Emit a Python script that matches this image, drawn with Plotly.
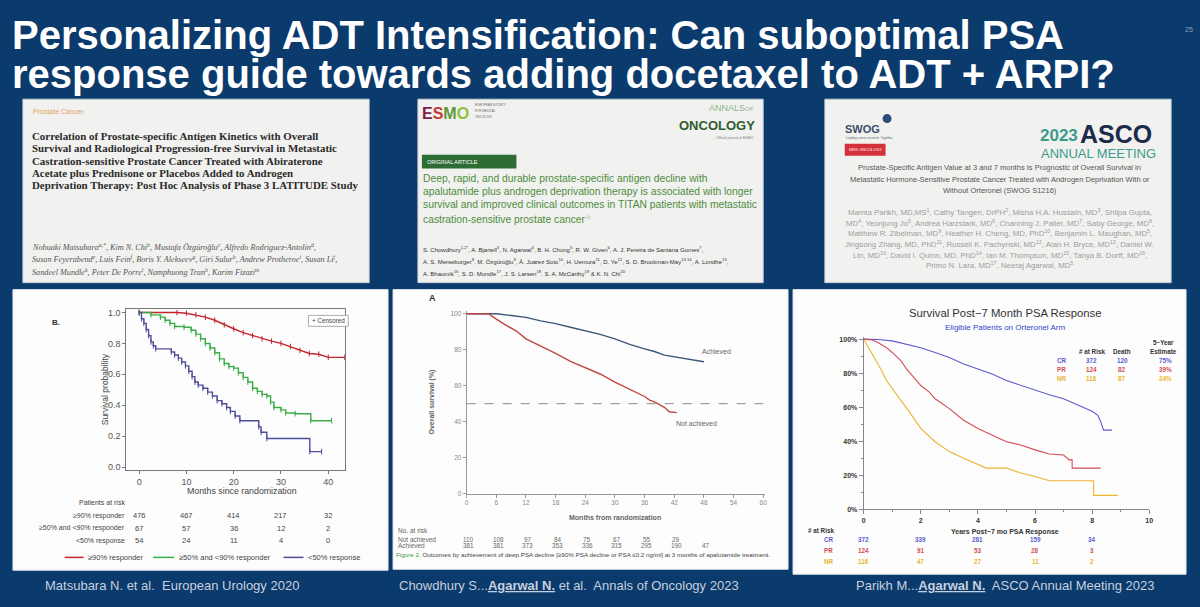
import plotly.graph_objects as go

W, H = 1200, 607
BG = '#0b3a6c'
SANS = 'Liberation Sans, Arial, sans-serif'
SERIF = 'Liberation Serif, Times New Roman, serif'

TITLE_LINES = ["Personalizing ADT Intensification: Can suboptimal PSA",
               "response guide towards adding docetaxel to ADT + ARPI?"]
SLIDE_NO = "25"

# ---------------- Panel 1 (LATITUDE) ----------------
P1_RED_T = [0, 8, 10, 12, 14, 16, 18, 20, 22, 24, 26, 28, 30, 32, 34, 36, 38, 40, 43.5]
P1_RED_S = [1.0, 1.0, 0.995, 0.985, 0.97, 0.95, 0.92, 0.895, 0.87, 0.85, 0.83, 0.815,
            0.80, 0.78, 0.755, 0.735, 0.73, 0.71, 0.71]
P1_GREEN_T = [0, 2.5, 4.5, 5.5, 6.5, 7.5, 9.5, 11.0, 12.0, 13.0, 14.0, 15.0, 16.0, 17.0,
              18.0, 19.0, 20.0, 21.0, 22.0, 23.0, 24.0, 25.0, 26.0, 27.0, 27.8, 28.5,
              30.0, 31.0, 33.0, 36.3, 40.7]
P1_GREEN_S = [1.0, 0.985, 0.97, 0.95, 0.93, 0.91, 0.905, 0.885, 0.86, 0.83, 0.80, 0.77,
              0.74, 0.70, 0.67, 0.65, 0.64, 0.61, 0.58, 0.55, 0.51, 0.49, 0.47, 0.46,
              0.42, 0.385, 0.37, 0.35, 0.345, 0.30, 0.30]
P1_BLUE_T = [0, 0.5, 1.0, 1.5, 2.0, 2.5, 3.0, 3.5, 6.8, 7.5, 8.3, 9.0, 9.8, 10.5, 11.2,
             11.8, 12.5, 13.5, 14.5, 15.5, 16.5, 17.5, 18.5, 19.3, 20.3, 21.3, 25.3,
             25.8, 27.0, 36.1, 38.6]
P1_BLUE_S = [1.0, 0.96, 0.93, 0.89, 0.85, 0.81, 0.785, 0.765, 0.745, 0.725, 0.705, 0.68,
             0.655, 0.62, 0.585, 0.55, 0.53, 0.51, 0.485, 0.46, 0.43, 0.41, 0.385, 0.36,
             0.33, 0.30, 0.26, 0.225, 0.185, 0.10, 0.10]
P1_XTICKS = [0, 10, 20, 30, 40]
P1_YTICKS = [0.0, 0.2, 0.4, 0.6, 0.8, 1.0]
P1_GROUPS = ["≥90% responder", "≥50% and <90% responder", "<50% response"]
P1_RISK_RED = [476, 467, 414, 217, 32]
P1_RISK_GREEN = [67, 57, 36, 12, 2]
P1_RISK_BLUE = [54, 24, 11, 4, 0]
P1_COLORS = ['#c3272d', '#3aae46', '#4d4d9c']

# ---------------- Panel 2 (TITAN) ----------------
P2_ACH_T = [0, 6, 9, 12, 15, 18, 21, 24, 27, 30, 33, 36, 38, 40, 42, 44, 46, 48]
P2_ACH_S = [100, 100, 99, 98, 96, 94.5, 92.5, 90.5, 88.5, 86, 83, 80.5, 79, 77, 76, 75, 74, 73.3]
P2_NOT_T = [0, 4.4, 6, 8, 10, 12, 15, 18, 21, 24, 27, 30, 33, 36, 37, 38, 39, 40, 41, 42.5]
P2_NOT_S = [100, 100, 97, 93.5, 90.5, 86, 82, 78, 73.5, 70, 66.5, 62, 58, 54, 52, 51,
            49.5, 48, 45.5, 45]
P2_XTICKS = [0, 6, 12, 18, 24, 30, 36, 42, 48, 54, 60]
P2_YTICKS = [0, 20, 40, 60, 80, 100]
P2_MEDIAN = 50
P2_RISK_T = [0, 6, 12, 18, 24, 30, 36, 42, 48]
P2_RISK_NOT = [110, 108, 97, 84, 75, 67, 55, 29]
P2_RISK_ACH = [381, 381, 373, 353, 336, 315, 295, 190, 47]
P2_COLORS = ['#3b5878', '#c04545']

# ---------------- Panel 3 (SWOG S1216) ----------------
P3_CR_T = [0, 0.5, 1, 1.5, 2, 2.5, 3, 3.5, 4, 4.5, 5, 5.5, 6, 6.5, 7, 7.5, 8, 8.2, 8.3, 8.4, 8.7]
P3_CR_S = [100, 99.8, 99, 97, 95, 92.2, 89.3, 85.4, 82.5, 79.6, 75.7, 72.8, 69.9, 67.4,
           65, 61.2, 57.7, 55.3, 51.5, 46.6, 46.6]
P3_PR_T = [0, 0.3, 0.5, 0.8, 1, 1.3, 1.5, 1.8, 2, 2.3, 2.5, 3, 3.5, 4, 4.5, 5, 5.5, 6,
           6.5, 7, 7.2, 7.3, 7.3, 8.3]
P3_PR_S = [100, 99.5, 98, 95, 92.2, 87.4, 82.5, 76.7, 72.8, 68.9, 65, 59.2, 52.4, 47.6,
           43.7, 39.8, 37.9, 35, 32.6, 32, 29.1, 29.1, 24.3, 24.3]
P3_NR_T = [0, 0.2, 0.4, 0.6, 0.8, 1, 1.3, 1.6, 2, 2.5, 3, 3.5, 4, 4.3, 5, 5.5, 6, 6.5,
           8.05, 8.05, 8.9]
P3_NR_S = [100, 94.2, 88.3, 82.5, 75.7, 70.9, 64.1, 57.3, 47.6, 39.8, 34, 30.1, 26.2,
           24.3, 24.3, 21.4, 19.4, 16.9, 16.9, 8.3, 8.3]
P3_GROUPS = ["CR", "PR", "NR"]
P3_COLORS = ['#5c5cd0', '#d24c55', '#ebb431']
P3_N = [372, 124, 116]
P3_DEATHS = [120, 82, 87]
P3_EST = ["75%", "39%", "24%"]
P3_XTICKS = [0, 2, 4, 6, 8, 10]
P3_YTICKS = [0, 20, 40, 60, 80, 100]
P3_RISK_T = [0, 2, 4, 6, 8]
P3_RISK_CR = [372, 339, 281, 159, 34]
P3_RISK_PR = [124, 91, 53, 28, 3]
P3_RISK_NR = [116, 47, 27, 11, 2]

CITATIONS = ["Matsubara N. et al.  European Urology 2020",
             "Chowdhury S...<b><u>Agarwal N.</u></b> et al.  Annals of Oncology 2023",
             "Parikh M...<b><u>Agarwal N.</u></b>  ASCO Annual Meeting 2023"]


def X(p):
    return p / W


def Y(p):
    return 1 - p / H


ann = []
shapes = []


def text(s, x, y, size, color='#333', xanchor='left', yanchor='middle', family=SANS,
         xref='paper', yref='paper', angle=0):
    ann.append(dict(text=s, x=X(x) if xref == 'paper' else x,
                    y=Y(y) if yref == 'paper' else y, xref=xref, yref=yref,
                    showarrow=False, font=dict(size=size, color=color, family=family),
                    xanchor=xanchor, yanchor=yanchor, textangle=angle, borderpad=0))


def rect(x0, y0, x1, y1, fill, line=None, lw=0, kind='rect'):
    shapes.append(dict(type=kind, xref='paper', yref='paper', x0=X(x0), x1=X(x1),
                       y0=Y(y1), y1=Y(y0), fillcolor=fill,
                       line=dict(color=line or fill, width=lw), layer='below'))


def seg(x0, x1, y, color, width=1.5):
    shapes.append(dict(type='line', xref='paper', yref='paper', x0=X(x0), x1=X(x1),
                       y0=Y(y), y1=Y(y), line=dict(color=color, width=width)))


# ---------- slide title ----------
text("<b>" + TITLE_LINES[0] + "</b>", 9, 33, 40, 'white')
text("<b>" + TITLE_LINES[1] + "</b>", 9, 73, 40, 'white')
text(SLIDE_NO, 1193, 28, 7, '#8fa3bb', xanchor='center')

# ---------- top article boxes ----------
rect(21, 98, 369, 283, '#f1f1ef', '#c9ced6', 1)
rect(418, 98, 765, 283, '#f1f1ef', '#c9ced6', 1)
rect(827, 98, 1175, 283, '#f1f1ef', '#c9ced6', 1)

# box 1
text("Prostate Cancer", 30, 110, 7, '#e3a25e')
B1 = ["Correlation of Prostate-specific Antigen Kinetics with Overall",
      "Survival and Radiological Progression-free Survival in Metastatic",
      "Castration-sensitive Prostate Cancer Treated with Abiraterone",
      "Acetate plus Prednisone or Placebos Added to Androgen",
      "Deprivation Therapy: Post Hoc Analysis of Phase 3 LATITUDE Study"]
for i, ln in enumerate(B1):
    text("<b>" + ln + "</b>", 29, 135 + i * 12.5, 10.9, '#2b2b2b', family=SERIF)
B1A = ["Nobuaki Matsubara<sup>a,*</sup>, Kim N. Chi<sup>b</sup>, Mustafa Özgüroğlu<sup>c</sup>, Alfredo Rodriguez-Antolin<sup>d</sup>,",
       "Susan Feyerabend<sup>e</sup>, Luis Fein<sup>f</sup>, Boris Y. Alekseev<sup>g</sup>, Giri Sulur<sup>h</sup>, Andrew Protheroe<sup>i</sup>, Susan Li<sup>j</sup>,",
       "Sandeel Mundle<sup>k</sup>, Peter De Porre<sup>l</sup>, Namphuong Tran<sup>h</sup>, Karim Fizazi<sup>m</sup>"]
for i, ln in enumerate(B1A):
    text("<i>" + ln + "</i>", 29, 247 + i * 12.5, 8.2, '#555', family=SERIF)

# box 2
text('<b><span style="color:#7d1f4c">E</span><span style="color:#c7363c">S</span>'
     '<span style="color:#5c9a3a">M</span><span style="color:#93c03f">O</span></b>',
     421, 112, 16, '#333')
for i, ln in enumerate(["EUROPEAN SOCIETY", "FOR MEDICAL", "ONCOLOGY"]):
    text(ln, 474, 104 + i * 6, 3, '#666')
text("ANNALS<span style='font-size:6px'>OF</span>", 757, 107, 9, '#8db38a', xanchor='right')
text("<b>ONCOLOGY</b>", 758, 125, 13, '#2f5d2f', xanchor='right')
text("Official journal of ESMO", 757, 137, 3.5, '#777', xanchor='right')
rect(422, 154, 517, 168, '#2e6b35')
text("ORIGINAL ARTICLE", 426, 161, 5.5, 'white')
B2 = ["Deep, rapid, and durable prostate-specific antigen decline with",
      "apalutamide plus androgen deprivation therapy is associated with longer",
      "survival and improved clinical outcomes in TITAN patients with metastatic",
      "castration-sensitive prostate cancer<sup>☆</sup>"]
for i, ln in enumerate(B2):
    text(ln, 422, 178 + i * 13.3, 10.3, '#4e8c3c')
B2A = ["S. Chowdhury<sup>1,2*</sup>, A. Bjartell<sup>3</sup>, N. Agarwal<sup>4</sup>, B. H. Chung<sup>5</sup>, R. W. Given<sup>6</sup>, A. J. Pereira de Santana Gomes<sup>7</sup>,",
       "A. S. Merseburger<sup>8</sup>, M. Özgüroğlu<sup>9</sup>, Á. Juárez Soto<sup>10</sup>, H. Uemura<sup>11</sup>, D. Ye<sup>12</sup>, S. D. Brookman-May<sup>13,14</sup>, A. Londhe<sup>15</sup>,",
       "A. Bhaumik<sup>16</sup>, S. D. Mundle<sup>17</sup>, J. S. Larsen<sup>18</sup>, S. A. McCarthy<sup>19</sup> & K. N. Chi<sup>20</sup>"]
for i, ln in enumerate(B2A):
    text(ln, 422, 249 + i * 12, 6, '#333')

# box 3
text("<b>SWOG</b>", 846, 128, 11, '#3b4d6b')
rect(885, 113, 894, 122, '#2c4a7a', kind='circle')
text("Leading cancer research. Together.", 847, 137, 3, '#666')
rect(847, 143, 888, 155, '#d5303a')
text("NRG ONCOLOGY", 850, 149, 4, 'white')
text("<b>2023</b>", 1042, 135, 17, '#3d9b8c')
text("<b>ASCO</b>", 1082, 133, 25, '#1c2b4a')
text("ANNUAL MEETING", 1043, 153, 13, '#3d9b8c')
B3 = ["Prostate-Specific Antigen Value at 3 and 7 months Is Prognostic of Overall Survival in",
      "Metastatic Hormone-Sensitive Prostate Cancer Treated with Androgen Deprivation With or",
      "Without Orteronel (SWOG S1216)"]
for i, ln in enumerate(B3):
    text(ln, 1003, 167 + i * 11.5, 7.5, '#555', xanchor='center')
B3A = ["Mamta Parikh, MD,MS<sup>1</sup>, Cathy Tangen, DrPH<sup>2</sup>, Misha H.A. Hussain, MD<sup>3</sup>, Shilpa Gupta,",
       "MD<sup>4</sup>, Yeonjung Jo<sup>5</sup>, Andrea Harzstark, MD<sup>6</sup>, Channing J. Paller, MD<sup>7</sup>, Saby George, MD<sup>8</sup>,",
       "Matthew R. Zibelman, MD<sup>9</sup>, Heather H. Cheng, MD, PhD<sup>10</sup>, Benjamin L. Maughan, MD<sup>5</sup>,",
       "Jingsong Zhang, MD, PhD<sup>11</sup>, Russell K. Pachynski, MD<sup>12</sup>, Alan H. Bryce, MD<sup>13</sup>, Daniel W.",
       "Lin, MD<sup>10</sup>, David I. Quinn, MD, PhD<sup>14</sup>, Ian M. Thompson, MD<sup>15</sup>, Tanya B. Dorff, MD<sup>16</sup>,",
       "Primo N. Lara, MD<sup>17</sup>, Neeraj Agarwal, MD<sup>5</sup>"]
for i, ln in enumerate(B3A):
    text(ln, 1003, 212 + i * 10.7, 7.8, '#9d9d9d', xanchor='center')

# ---------- bottom chart panels ----------
rect(11, 290, 388, 573, '#fdfdfd', '#dde3ea', 1)
rect(393, 290, 790, 572, '#fdfdfd', '#dde3ea', 1)
rect(795, 290, 1190, 577, '#fdfdfd', '#dde3ea', 1)

fig = go.Figure()

# panel 1 traces
for t, s, c in [(P1_RED_T, P1_RED_S, P1_COLORS[0]), (P1_GREEN_T, P1_GREEN_S, P1_COLORS[1]),
                (P1_BLUE_T, P1_BLUE_S, P1_COLORS[2])]:
    shape = 'linear' if c == P1_COLORS[0] else 'hv'
    fig.add_trace(go.Scatter(x=t, y=s, mode='lines+markers', xaxis='x', yaxis='y',
                             line=dict(color=c, width=1.4, shape=shape),
                             marker=dict(symbol='line-ns-open', size=4,
                                         line=dict(color=c, width=1))))

# panel 2 traces
fig.add_trace(go.Scatter(x=P2_ACH_T, y=P2_ACH_S, mode='lines', xaxis='x2', yaxis='y2',
                         line=dict(color=P2_COLORS[0], width=1.4)))
fig.add_trace(go.Scatter(x=P2_NOT_T, y=P2_NOT_S, mode='lines', xaxis='x2', yaxis='y2',
                         line=dict(color=P2_COLORS[1], width=1.4)))

# panel 3 traces
for t, s, c in [(P3_CR_T, P3_CR_S, P3_COLORS[0]), (P3_PR_T, P3_PR_S, P3_COLORS[1]),
                (P3_NR_T, P3_NR_S, P3_COLORS[2])]:
    fig.add_trace(go.Scatter(x=t, y=s, mode='lines', xaxis='x3', yaxis='y3',
                             line=dict(color=c, width=1.1)))

# panel 1 annotations
text("<b>B.</b>", 49, 323, 8, '#333')
shapes.append(dict(type='rect', xref='paper', yref='paper', x0=X(308), x1=X(348),
                   y0=Y(327), y1=Y(316), fillcolor='white', line=dict(color='#999', width=0.8)))
text("+ Censored", 328, 321.5, 6.3, '#444', xanchor='center')
text("Survival probability", 103, 390, 8.5, '#444', xanchor='center', angle=-90)
text("Months since randomization", 241, 493, 8.8, '#444', xanchor='center')
text("Patients at risk", 125, 505, 7, '#444', xanchor='right')
for i, (g, vals) in enumerate(zip(P1_GROUPS, [P1_RISK_RED, P1_RISK_GREEN, P1_RISK_BLUE])):
    yy = 518 + i * 12.7
    text(g, 125, yy, 7, '#444', xanchor='right')
    for tt, v in zip(P1_XTICKS, vals):
        ann.append(dict(text=str(v), x=tt, y=Y(yy), xref='x', yref='paper', showarrow=False,
                        font=dict(size=7.5, color='#444', family=SANS), xanchor='center',
                        yanchor='middle'))
leg_x = [(63, 82, 85), (152, 173, 177), (283, 303, 307)]
for (a, b, tx), g, c in zip(leg_x, P1_GROUPS, P1_COLORS):
    seg(a, b, 560, c, 1.5)
    text(g, tx, 560, 7.5, '#444')

# panel 2 annotations
text("<b>A</b>", 428, 298, 9, '#333')
text("<b>Overall survival (%)</b>", 432, 403, 7, '#666', xanchor='center', angle=-90)
text("<b>Months from randomization</b>", 616, 520, 7, '#666', xanchor='center')
ann.append(dict(text="Achieved", x=50.6, y=79, xref='x2', yref='y2', showarrow=False,
                font=dict(size=7, color='#666', family=SANS), xanchor='center'))
ann.append(dict(text="Not achieved", x=46.5, y=39, xref='x2', yref='y2', showarrow=False,
                font=dict(size=7, color='#666', family=SANS), xanchor='center'))
shapes.append(dict(type='line', xref='x2', yref='y2', x0=P2_XTICKS[0], x1=P2_XTICKS[-1],
                   y0=P2_MEDIAN, y1=P2_MEDIAN, line=dict(color='#8a8a8a', width=1, dash='dash')))
text("No. at risk", 397, 533, 6.5, '#666')
for yy, lab, vals in [(541.7, "Not achieved", P2_RISK_NOT), (548.3, "Achieved", P2_RISK_ACH)]:
    text(lab, 397, yy, 6.5, '#666')
    for tt, v in zip(P2_RISK_T, vals):
        ann.append(dict(text=str(v), x=tt, y=Y(yy), xref='x2', yref='paper', showarrow=False,
                        font=dict(size=6.3, color='#666', family=SANS), xanchor='center',
                        yanchor='middle', xshift=2))
text('<span style="color:#3b9a3b">Figure 2.</span> Outcomes by achievement of deep PSA decline '
     '[≥90% PSA decline or PSA ≤0.2 ng/ml] at 3 months of apalutamide treatment.',
     395, 557, 6.25, '#444')

# panel 3 annotations
text("Survival Post−7 Month PSA Response", 1008, 314, 11.3, '#333', xanchor='center')
text("Eligible Patients on Orteronel Arm", 1008, 328, 8, '#3344cc', xanchor='center')
text("<b>5−Year</b>", 1167, 343, 6.3, '#333', xanchor='center')
text("<b># at Risk</b>", 1095, 352, 6.3, '#333', xanchor='center')
text("<b>Death</b>", 1126, 352, 6.3, '#333', xanchor='center')
text("<b>Estimate</b>", 1167, 352, 6.3, '#333', xanchor='center')
for i, g in enumerate(P3_GROUPS):
    yy = 361 + i * 9.5
    c = P3_COLORS[i]
    text("<b>" + g + "</b>", 1065, yy, 6.3, c, xanchor='center')
    text("<b>%d</b>" % P3_N[i], 1095, yy, 6.3, c, xanchor='center')
    text("<b>%d</b>" % P3_DEATHS[i], 1126, yy, 6.3, c, xanchor='center')
    text("<b>" + P3_EST[i] + "</b>", 1169, yy, 6.3, c, xanchor='center')
text("<b>Years Post−7 mo PSA Response</b>", 1008, 534, 7, '#333', xanchor='center')
text("<b># at Risk</b>", 809, 533, 6.3, '#333')
for i, (g, vals) in enumerate(zip(P3_GROUPS, [P3_RISK_CR, P3_RISK_PR, P3_RISK_NR])):
    yy = 542 + i * 11
    c = P3_COLORS[i]
    text("<b>" + g + "</b>", 831, yy, 6.3, c, xanchor='center')
    for tt, v in zip(P3_RISK_T, vals):
        ann.append(dict(text="<b>%d</b>" % v, x=tt, y=Y(yy), xref='x3', yref='paper',
                        showarrow=False, font=dict(size=6.3, color=c, family=SANS),
                        xanchor='center', yanchor='middle'))

# citations
for xx, s in zip([42, 398, 857], CITATIONS):
    text(s, xx, 588, 13, '#c6d0df')

axis_common = dict(showgrid=False, zeroline=False, showline=True, ticks='outside')

fig.update_layout(
    width=W, height=H, margin=dict(l=0, r=0, t=0, b=0),
    paper_bgcolor=BG, plot_bgcolor='rgba(0,0,0,0)', showlegend=False,
    xaxis=dict(axis_common, domain=[X(125), X(345)], range=[-2.7, 43.6], anchor='y',
               tickvals=P1_XTICKS, ticklen=3, linecolor='#777', tickcolor='#777', mirror=True,
               tickfont=dict(size=9, color='#555', family=SANS)),
    yaxis=dict(axis_common, domain=[Y(472), Y(310)], range=[-0.02, 1.02], anchor='x',
               tickvals=P1_YTICKS, ticktext=['%.1f' % v for v in P1_YTICKS], ticklen=3,
               linecolor='#777', tickcolor='#777', mirror=True,
               tickfont=dict(size=9, color='#555', family=SANS)),
    xaxis2=dict(axis_common, domain=[X(467), X(767)], range=[0, 60.4], anchor='y2',
                tickvals=P2_XTICKS, ticklen=3, linecolor='#999', tickcolor='#999',
                tickfont=dict(size=6.5, color='#888', family=SANS)),
    yaxis2=dict(axis_common, domain=[Y(495.7), Y(311.6)], range=[0, 101.5], anchor='x2',
                tickvals=P2_YTICKS, ticklen=3, linecolor='#999', tickcolor='#999',
                tickfont=dict(size=6.5, color='#888', family=SANS)),
    xaxis3=dict(axis_common, domain=[X(866), X(1153)], range=[0, 10], anchor='y3',
                tickvals=P3_XTICKS, ticklen=4, linecolor='#888', tickcolor='#888',
                minor=dict(dtick=1, ticks='outside', ticklen=2, tickcolor='#888'),
                tickfont=dict(size=7, color='#333', family=SANS, weight='bold')),
    yaxis3=dict(axis_common, domain=[Y(511.7), Y(337.4)], range=[0, 101.5], anchor='x3',
                tickvals=P3_YTICKS, ticktext=['%d%%' % v for v in P3_YTICKS], ticklen=4,
                linecolor='#888', tickcolor='#888',
                minor=dict(dtick=10, ticks='outside', ticklen=2, tickcolor='#888'),
                tickfont=dict(size=7, color='#333', family=SANS, weight='bold')),
    annotations=ann, shapes=shapes,
)

fig.write_html("out.html")
